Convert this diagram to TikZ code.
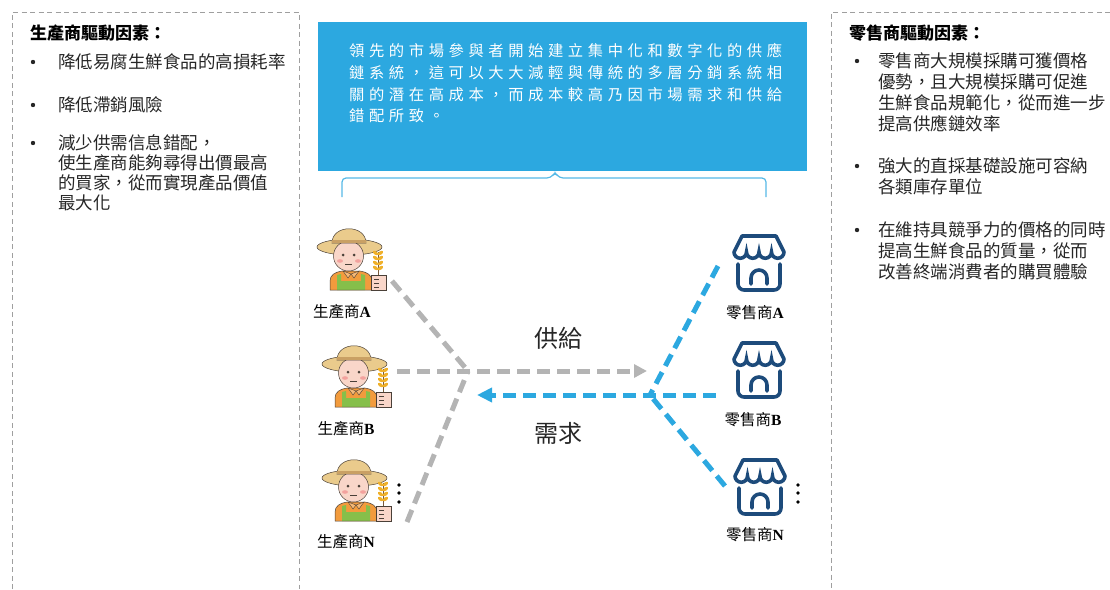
\documentclass[tikz,border=0pt]{standalone}
\usepackage{xcolor}
\usepackage{fontspec}
\setmainfont{Liberation Serif}
\newfontfamily\cjk{Noto Sans CJK TC}
\newfontfamily\cjkwide[LetterSpace=30]{Noto Sans CJK TC}
\usepackage{tikz}
\usetikzlibrary{positioning,arrows.meta}

\definecolor{boxblue}{HTML}{2CA8E0}
\definecolor{linegray}{HTML}{B4B4B4}
\definecolor{navy}{HTML}{1D4B7B}
\definecolor{hattan}{HTML}{EACB8C}
\definecolor{hatband}{HTML}{C9A064}
\definecolor{skin}{HTML}{F9D6C9}
\definecolor{blush}{HTML}{F3A29E}
\definecolor{shirt}{HTML}{F29B3D}
\definecolor{overall}{HTML}{86BF4A}
\definecolor{wheat}{HTML}{EFB02A}
\definecolor{outline}{HTML}{4A4038}

\tikzset{
  panel/.style={draw=gray!75,line width=.7pt,dash pattern=on 5pt off 3.5pt},
  item/.style={anchor=north west,inner sep=0,align=left,text=black!85,font=\cjk\fontsize{17.5}{20}\selectfont},
  head/.style={anchor=west,inner sep=0,font=\cjk\bfseries\fontsize{17}{20}\selectfont},
  icon/.style={minimum width=70pt,minimum height=60pt,inner sep=0},
  lbl/.style={inner sep=0,font=\cjk\fontsize{15.5}{18}\selectfont},
  supply/.style={draw=linegray,line width=5pt,dash pattern=on 13pt off 7pt},
  demand/.style={draw=boxblue,line width=5pt,dash pattern=on 13pt off 7pt},
  flow/.style={inner sep=0,text=black!85,font=\cjk\fontsize{24}{28}\selectfont},
  farmer/.pic={
    % shirt, overalls, collar
    \fill[shirt] (-21,30) -- (-21,21) .. controls (-21,15) and (-16,12) .. (-9,11) -- (9,11) .. controls (16,12) and (21,15) .. (21,21) -- (21,30) -- cycle;
    \fill[overall] (-14,30) -- (-14,15) -- (-10,14) -- (-10,21) -- (10,21) -- (10,14) -- (14,15) -- (14,30) -- cycle;
    \draw[outline,line width=.5pt] (-21,30) -- (-21,21) .. controls (-21,15) and (-16,12) .. (-9,11) -- (9,11) .. controls (16,12) and (21,15) .. (21,21) -- (21,30) -- cycle;
    \draw[outline,line width=.4pt,fill=shirt!70!white] (-8,11) -- (0,14) -- (-3,18) -- cycle (8,11) -- (0,14) -- (3,18) -- cycle;
    % hat brim behind the face
    \draw[outline,line width=.5pt,fill=hattan] (-1.5,-13) ellipse (32.5 and 8);
    % face
    \draw[outline,line width=.5pt,fill=skin] (-2.5,-4) circle (15);
    \fill[blush] (-11,1) ellipse (3 and 1.8) (7,1) ellipse (3 and 1.8);
    \fill[outline] (-8,-5) circle (1.5) (3,-5) circle (1.5);
    \draw[outline,line width=.6pt] (-6,4) -- (1,4);
    % hat crown
    \draw[outline,line width=.5pt,fill=hattan] (-19,-17) .. controls (-19,-36) and (15,-36) .. (15,-17) -- cycle;
    \fill[hatband] (-19,-20) rectangle (15,-17);
    % wheat and hand
    \draw[outline!60!brown,line width=.8pt] (27,-8) -- (27,17);
    \foreach \t in {-7,-2,3,8}{
      \fill[wheat,rotate around={-35:(24.5,\t)}] (24.5,\t) ellipse (3 and 1.7);
      \fill[wheat,rotate around={35:(29.5,\t)}] (29.5,\t) ellipse (3 and 1.7);
    }
    \draw[outline,line width=.5pt,fill=skin] (20,15) rectangle (35,30);
    \draw[outline,line width=.4pt] (23,19) -- (28,19) (23,23) -- (28,23) (23,27) -- (28,27);
  },
  shop/.pic={
    \draw[navy,line width=3.6pt,line cap=round,line join=round] (-25,-11) -- (-17,-27) -- (17,-27) -- (25,-11);
    \draw[navy,line width=3.6pt,line cap=round] (-25,-11)
      arc[start angle=180,end angle=0,radius=6.25] arc[start angle=180,end angle=0,radius=6.25]
      arc[start angle=180,end angle=0,radius=6.25] arc[start angle=180,end angle=0,radius=6.25];
    \draw[navy,line width=3.6pt,line cap=round,rounded corners=6pt] (-21,1) -- (-21,27) -- (21,27) -- (21,1);
    \draw[navy,line width=3.6pt,line cap=round] (-8,21) -- (-8,15) arc[start angle=180,end angle=360,radius=8] -- (8,21);
  }
}

\begin{document}
\begin{tikzpicture}[x=1pt,y=-1pt]
    \useasboundingbox (0,0) rectangle (1110,589);

    % side panels
    \draw[panel] (12,589) -- (12,12) -- (299,12) -- (299,589);
    \draw[panel] (1110,12) -- (831,12) -- (831,589);

    \node[head] (hprod) at (30,33) {生產商驅動因素：};
    \foreach \y in {62,105,143} \fill[black!85] (33,\y) circle (2.2);
    \node[item] (p1) at (58,53.3) {降低易腐生鮮食品的高損耗率};
    \node[item] (p2) at (58,96.3) {降低滯銷風險};
    \node[item] (p3) at (58,134.3) {減少供需信息錯配，\\使生產商能夠尋得出價最高\\的買家，從而實現產品價值\\最大化};

    \node[head] (hret) at (849,33) {零售商驅動因素：};
    \foreach \y in {61,166,230} \fill[black!85] (857,\y) circle (2.2);
    \node[item,font=\cjk\fontsize{17.5}{21}\selectfont] (r1) at (878,52.3) {零售商大規模採購可獲價格\\優勢，且大規模採購可促進\\生鮮食品規範化，從而進一步\\提高供應鏈效率};
    \node[item,font=\cjk\fontsize{17.5}{21}\selectfont] (r2) at (878,157.3) {強大的直採基礎設施可容納\\各類庫存單位};
    \node[item,font=\cjk\fontsize{17.5}{21}\selectfont] (r3) at (878,221.3) {在維持具競爭力的價格的同時\\提高生鮮食品的質量，從而\\改善終端消費者的購買體驗};

    % centre box and brace
    \node[fill=boxblue,minimum width=489pt,minimum height=149pt,inner sep=0,anchor=north west] (cbox) at (318,22) {};
    \node[anchor=north west,inner sep=0,align=left,text=white,font=\cjkwide\fontsize{15.3}{21.7}\selectfont] (ctext) at (349,43.5)
      {領先的市場參與者開始建立集中化和數字化的供應\\鏈系統，這可以大大減輕與傳統的多層分銷系統相\\關的潛在高成本，而成本較高乃因市場需求和供給\\錯配所致。};
    \draw[boxblue!80!white,line width=1.2pt,rounded corners=4pt] (342,197) -- (342,178) -- (551,178) -- (555,172) -- (559,178) -- (766,178) -- (766,197);

    % producers
    \node[icon] (fA) at (351,260) {}; \pic at (fA) {farmer};
    \node[icon] (fB) at (356,377) {}; \pic at (fB) {farmer};
    \node[icon] (fN) at (356,491) {}; \pic at (fN) {farmer};
    \node[lbl,below=14pt of fA,xshift=-9pt] (lA) {生產商{\rmfamily\bfseries A}};
    \node[lbl,below=14pt of fB,xshift=-10pt] (lB) {生產商{\rmfamily\bfseries B}};
    \node[lbl,below=13pt of fN,xshift=-10pt] (lN) {生產商{\rmfamily\bfseries N}};

    % retailers
    \node[icon] (sA) at (759,263) {}; \pic at (sA) {shop};
    \node[icon] (sB) at (759,370) {}; \pic at (sB) {shop};
    \node[icon] (sN) at (760,487) {}; \pic at (sN) {shop};
    \node[lbl,below=12pt of sA,xshift=-4pt] (mA) {零售商{\rmfamily\bfseries A}};
    \node[lbl,below=12pt of sB,xshift=-6pt] (mB) {零售商{\rmfamily\bfseries B}};
    \node[lbl,below=10pt of sN,xshift=-5pt] (mN) {零售商{\rmfamily\bfseries N}};

    \foreach \y in {485,493,502} {
      \fill (399,\y) circle (1.8);
      \fill (798,\y) circle (1.8);
    }

    % supply lines
    \coordinate (jS) at (468,371);
    \coordinate (eA) at (392,281);
    \coordinate (eB) at (397,371);
    \coordinate (eN) at (407,522);
    \coordinate (tS) at (647,371);
    \draw[supply] (eA) -- (jS);
    \draw[supply] (eN) -- (jS);
    \draw[supply,-{Triangle[length=13pt,width=13pt]}] (eB) -- (tS);

    % demand lines
    \coordinate (jD) at (650,395);
    \coordinate (gA) at (718,266);
    \coordinate (gB) at (716,395);
    \coordinate (gN) at (725,486);
    \coordinate (tD) at (477,395);
    \draw[demand] (gA) -- (jD);
    \draw[demand] (gN) -- (jD);
    \draw[demand,-{Triangle[length=15pt,width=14pt]}] (gB) -- (tD);

    \node[flow] (sup) at (558,338) {供給};
    \node[flow] (dem) at (558,433) {需求};
\end{tikzpicture}
\end{document}
